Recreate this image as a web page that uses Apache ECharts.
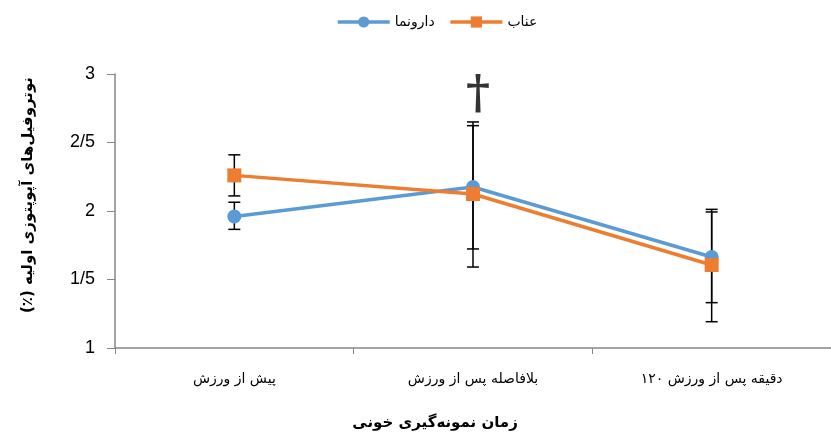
<!DOCTYPE html>
<html>
<head>
<meta charset="utf-8">
<script src="https://cdn.jsdelivr.net/npm/echarts@6/dist/echarts.min.js"></script>
<style>
  html, body { margin: 0; padding: 0; background: #fff; }
  #chart { width: 831px; height: 435px; }
</style>
</head>
<body>
<div id="chart"></div>
<script>
// Sampling times (x axis)
const categories = ['پیش از ورزش', 'بلافاصله پس از ورزش', '\u202A۱۲۰ دقیقه پس از ورزش\u202C'];

// Group means and error bar ends
const placeboName = 'دارونما';
const placeboMean = [1.96, 2.175, 1.664];
const placeboLow  = [1.866, 1.723, 1.331];
const placeboHigh = [2.064, 2.650, 2.012];

const jujubeName = 'عناب';
const jujubeMean = [2.26, 2.124, 1.606];
const jujubeLow  = [2.11, 1.591, 1.192];
const jujubeHigh = [2.41, 2.623, 1.993];

// Y axis tick labels (Persian decimal separator)
const yTickValues = [1, 1.5, 2, 2.5, 3];
const yTickLabels = ['1', '1/5', '2', '2/5', '3'];

// Significance mark above the second time point
const sigCategory = 1;
const sigLevel = 2.855;
const sigMark = '†';

const yTitle = '\u202Bنوتروفیل‌های آپوپتوزی اولیه (٪)\u202C';
const xTitle = 'زمان نمونه‌گیری خونی';

const BLUE = '#5B9BD5';
const ORANGE = '#ED7D31';
const FA = "'DejaVu Sans', 'Noto Sans', sans-serif";

function errorSeries(low, high) {
  return {
    type: 'custom',
    z: 1,
    silent: true,
    data: low.map((l, i) => [i, l, high[i]]),
    encode: { x: 0, y: [1, 2] },
    renderItem: function (params, api) {
      const x = api.value(0);
      const p1 = api.coord([x, api.value(1)]);
      const p2 = api.coord([x, api.value(2)]);
      const hw = 6;
      const style = { stroke: '#000', lineWidth: 1.5, fill: null };
      return {
        type: 'group',
        children: [
          { type: 'line', shape: { x1: p1[0], y1: p1[1], x2: p2[0], y2: p2[1] }, style: style },
          { type: 'line', shape: { x1: p1[0] - hw, y1: p1[1], x2: p1[0] + hw, y2: p1[1] }, style: style },
          { type: 'line', shape: { x1: p2[0] - hw, y1: p2[1], x2: p2[0] + hw, y2: p2[1] }, style: style }
        ]
      };
    }
  };
}

const chart = echarts.init(document.getElementById('chart'), null, { renderer: 'canvas' });

chart.setOption({
  animation: false,
  backgroundColor: '#fff',
  grid: { left: 115, right: -7, top: 74, bottom: 87, containLabel: false },
  legend: {
    left: 331,
    top: 10,
    itemWidth: 52,
    itemHeight: 14,
    itemGap: 14,
    data: [placeboName, jujubeName],
    lineStyle: { width: 3.5 },
    textStyle: { fontFamily: FA, fontSize: 14, color: '#000' }
  },
  xAxis: {
    type: 'category',
    data: categories,
    boundaryGap: true,
    axisLine: { lineStyle: { color: '#868686', width: 1.5 } },
    axisTick: { show: true, length: 6, lineStyle: { color: '#868686' } },
    axisLabel: { fontFamily: FA, fontSize: 14, color: '#000', margin: 24 }
  },
  yAxis: {
    type: 'value',
    min: 1,
    max: 3,
    interval: 0.5,
    splitLine: { show: false },
    axisLine: { show: true, lineStyle: { color: '#868686', width: 1.5 } },
    axisTick: { show: true, length: 8, lineStyle: { color: '#868686' } },
    axisLabel: {
      fontFamily: "'Liberation Sans', sans-serif",
      fontSize: 18,
      color: '#000',
      margin: 20,
      formatter: function (v) {
        const i = yTickValues.indexOf(v);
        return i >= 0 ? yTickLabels[i] : '';
      }
    }
  },
  graphic: [
    {
      type: 'text',
      x: 28,
      y: 195,
      rotation: Math.PI / 2,
      style: {
        text: yTitle,
        font: "bold 15px 'DejaVu Sans', sans-serif",
        fill: '#000',
        align: 'center',
        verticalAlign: 'middle'
      }
    },
    {
      type: 'text',
      x: 435,
      y: 423,
      style: {
        text: xTitle,
        font: "bold 15px 'DejaVu Sans', sans-serif",
        fill: '#000',
        align: 'center',
        verticalAlign: 'middle'
      }
    }
  ],
  series: [
    errorSeries(placeboLow, placeboHigh),
    errorSeries(jujubeLow, jujubeHigh),
    {
      name: placeboName,
      type: 'line',
      z: 3,
      data: placeboMean,
      symbol: 'circle',
      symbolSize: 14,
      lineStyle: { color: BLUE, width: 3.5 },
      itemStyle: { color: BLUE }
    },
    {
      name: jujubeName,
      type: 'line',
      z: 4,
      data: jujubeMean,
      symbol: 'rect',
      symbolSize: 14,
      lineStyle: { color: ORANGE, width: 3.5 },
      itemStyle: { color: ORANGE }
    },
    {
      type: 'scatter',
      z: 5,
      silent: true,
      symbolSize: 1,
      itemStyle: { color: 'rgba(0,0,0,0)' },
      data: [[sigCategory, sigLevel]],
      label: {
        show: true,
        position: 'inside',
        offset: [5, 2],
        formatter: sigMark,
        fontFamily: "'DejaVu Serif', serif",
        fontWeight: 'bold',
        fontSize: 46,
        color: '#000'
      }
    }
  ]
});
</script>
</body>
</html>
